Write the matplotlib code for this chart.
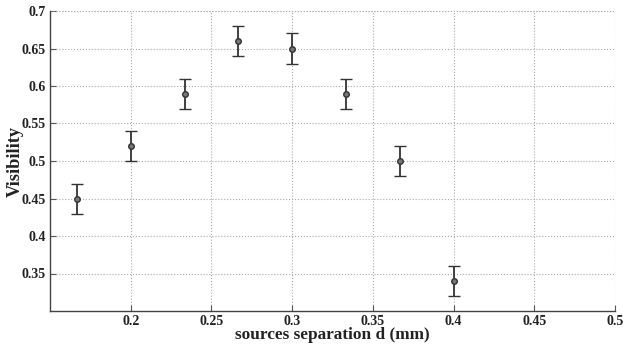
import matplotlib
matplotlib.use("Agg")
import matplotlib.pyplot as plt

# Measured visibility versus source separation
separation_mm = [1/6, 0.2, 7/30, 4/15, 0.3, 1/3, 11/30, 0.4]
visibility = [0.45, 0.52, 0.59, 0.66, 0.65, 0.59, 0.50, 0.34]
visibility_err = [0.02, 0.02, 0.02, 0.02, 0.02, 0.02, 0.02, 0.02]

x_ticks = [0.2, 0.25, 0.3, 0.35, 0.4, 0.45, 0.5]
x_tick_labels = ["0.2", "0.25", "0.3", "0.35", "0.4", "0.45", "0.5"]
y_ticks = [0.35, 0.4, 0.45, 0.5, 0.55, 0.6, 0.65, 0.7]
y_tick_labels = ["0.35", "0.4", "0.45", "0.5", "0.55", "0.6", "0.65", "0.7"]

plt.rcParams["font.family"] = ["Liberation Serif", "DejaVu Serif"]
plt.rcParams["font.weight"] = "bold"

fig = plt.figure(figsize=(6.23, 3.44), dpi=100)
ax = fig.add_axes([50 / 623, 1 - 311 / 344, 565 / 623, 300 / 344])

ax.errorbar(separation_mm, visibility, yerr=visibility_err, fmt="o",
            color="#333333", ecolor="#333333", elinewidth=1.3, capsize=4,
            capthick=1.3, markersize=4, markerfacecolor="#777777",
            markeredgecolor="#333333", markeredgewidth=1)

ax.set_xlim(0.15, 0.5)
ax.set_ylim(0.3, 0.7)
ax.set_xticks(x_ticks)
ax.set_xticklabels(x_tick_labels)
ax.set_yticks(y_ticks)
ax.set_yticklabels(y_tick_labels)

ax.grid(True, linestyle=":", color="#aaaaaa", linewidth=0.8)
ax.set_axisbelow(True)
for side in ("top", "right"):
    ax.spines[side].set_visible(False)
for side in ("left", "bottom"):
    ax.spines[side].set_color("#444444")
    ax.spines[side].set_linewidth(1.0)

# dotted frame on the open sides
ax.axhline(0.7, color="#aaaaaa", linestyle=":", linewidth=0.8)
ax.axvline(0.5, color="#aaaaaa", linestyle=":", linewidth=0.8)

ax.tick_params(direction="in", length=4, width=0.8, color="#555555",
               labelsize=10, labelcolor="#222222", pad=3)

ax.set_xlabel("sources separation d (mm)", fontsize=12.4, fontweight="bold",
              color="#222222", labelpad=-1)
ax.set_ylabel("Visibility", fontsize=13.2, fontweight="bold",
              color="#222222", labelpad=-1.5)

fig.savefig("out.png", dpi=100)
